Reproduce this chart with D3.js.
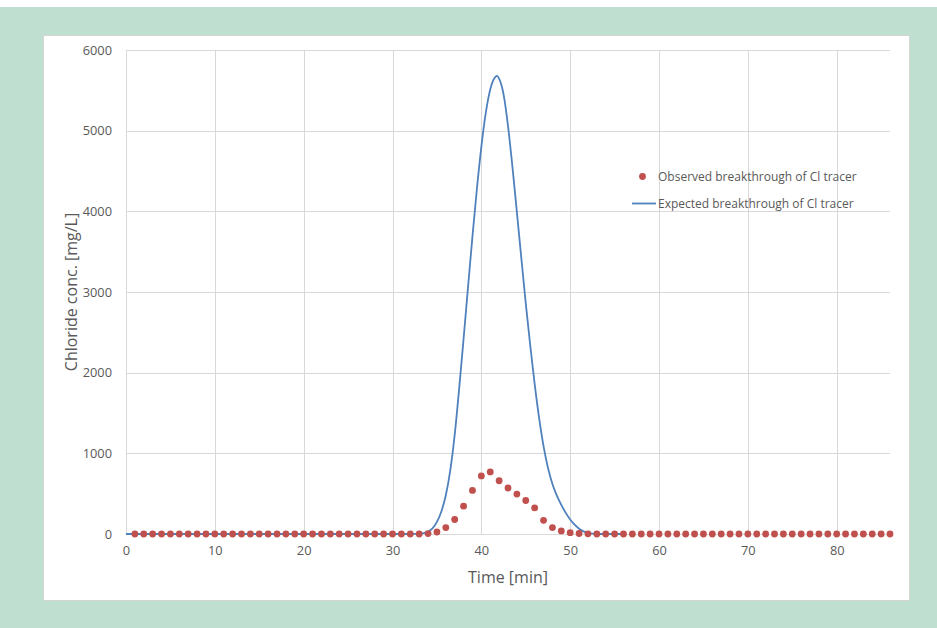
<!DOCTYPE html>
<html><head><meta charset="utf-8">
<script src="https://cdn.jsdelivr.net/npm/d3@7"></script>
<style>
html,body{margin:0;padding:0;background:#fff;}
svg{display:block;}
</style></head>
<body>
<svg id="chart" width="937" height="628"></svg>
<script>
// ---- data ----
const obsTime = [1,2,3,4,5,6,7,8,9,10,11,12,13,14,15,16,17,18,19,20,21,22,23,24,25,26,27,28,29,30,
  31,32,33,34,35,36,37,38,39,40,41,42,43,44,45,46,47,48,49,50,51,52,53,54,55,56,57,58,59,60,
  61,62,63,64,65,66,67,68,69,70,71,72,73,74,75,76,77,78,79,80,81,82,83,84,85,86];
const obsConc = [0,0,0,0,0,0,0,0,0,0,0,0,0,0,0,0,0,0,0,0,0,0,0,0,0,0,0,0,0,0,
  0,0,0,5,25,80,180,345,540,720,770,660,570,495,415,325,170,80,38,16,6,2,0,0,0,0,0,0,0,0,
  0,0,0,0,0,0,0,0,0,0,0,0,0,0,0,0,0,0,0,0,0,0,0,0,0,0];
const expTime = [0,32,32.5,33,33.5,34,34.5,35,35.5,36,36.5,37,37.5,38,38.5,39,39.5,40,40.5,41,41.5,41.75,42,
  42.5,43,43.5,44,44.5,45,45.5,46,46.5,47,47.5,48,48.5,49,49.5,50,50.5,51,51.5,52,52.5,53,53.5,56];
const expConc = [0,0,1,3,10,30,70,150,280,480,790,1230,1800,2420,3060,3690,4280,4800,5220,5510,5655,5680,5645,
  5450,5060,4550,3990,3420,2860,2340,1860,1440,1090,820,620,475,360,262,180,115,66,33,13,4,0,0,0];
const xTicks = [0,10,20,30,40,50,60,70,80];
const yTicks = [0,1000,2000,3000,4000,5000,6000];
const seriesNames = ["Observed breakthrough of Cl tracer","Expected breakthrough of Cl tracer"];
const xTitle = "Time [min]";
const yTitle = "Chloride conc. [mg/L]";

// ---- layout ----
const W = 937, H = 628;
const plot = {left:126, right:890, top:50, bottom:534};
const svg = d3.select("#chart");
const font = "'Open Sans', 'Liberation Sans', sans-serif";
const grey = "#595959", gridC = "#d9d9d9";
const red = "#c0504d", blue = "#4f81bd";

svg.append("rect").attr("x",0).attr("y",0).attr("width",W).attr("height",H).attr("fill","#bfe0d0");
svg.append("rect").attr("x",0).attr("y",0).attr("width",W).attr("height",7).attr("fill","#ffffff");
svg.append("rect").attr("x",43.5).attr("y",35.5).attr("width",866).attr("height",565)
  .attr("fill","#ffffff").attr("stroke","#d6d6d6").attr("stroke-width",1);

const x = d3.scaleLinear().domain([0,86]).range([plot.left, plot.right]);
const y = d3.scaleLinear().domain([0,6000]).range([plot.bottom, plot.top]);

// gridlines
const g = svg.append("g");
g.selectAll("line.h").data(yTicks).join("line")
  .attr("x1",plot.left).attr("x2",plot.right)
  .attr("y1",d=>Math.round(y(d))+0.5).attr("y2",d=>Math.round(y(d))+0.5)
  .attr("stroke",gridC).attr("stroke-width",1);
g.selectAll("line.v").data(xTicks).join("line")
  .attr("y1",plot.top).attr("y2",plot.bottom)
  .attr("x1",d=>Math.round(x(d))+0.5).attr("x2",d=>Math.round(x(d))+0.5)
  .attr("stroke",gridC).attr("stroke-width",1);

// axes (labels only)
const xAxis = svg.append("g").attr("transform",`translate(0,${plot.bottom})`)
  .call(d3.axisBottom(x).tickValues(xTicks).tickSize(0).tickPadding(12).tickFormat(d3.format("d")));
const yAxis = svg.append("g").attr("transform",`translate(${plot.left},0)`)
  .call(d3.axisLeft(y).tickValues(yTicks).tickSize(0).tickPadding(14).tickFormat(d3.format("d")));
[xAxis,yAxis].forEach(a=>{
  a.select(".domain").remove();
  a.selectAll("text").attr("fill",grey).style("font-family",font).style("font-size","12.8px");
});

// expected curve
const line = d3.line().x((d,i)=>x(expTime[i])).y(d=>y(d)).curve(d3.curveMonotoneX);
svg.append("path").datum(expConc).attr("d",line)
  .attr("fill","none").attr("stroke",blue).attr("stroke-width",1.8);

// observed points
svg.append("g").selectAll("circle").data(obsConc).join("circle")
  .attr("cx",(d,i)=>x(obsTime[i])).attr("cy",d=>y(d)).attr("r",3.4).attr("fill",red);

// axis titles
svg.append("text").attr("x",(plot.left+plot.right)/2).attr("y",583)
  .attr("text-anchor","middle").attr("fill",grey)
  .style("font-family",font).style("font-size","16px").text(xTitle);
svg.append("text").attr("transform",`translate(77,${(plot.top+plot.bottom)/2}) rotate(-90)`)
  .attr("text-anchor","middle").attr("fill",grey)
  .style("font-family",font).style("font-size","16px").text(yTitle);

// legend
const leg = svg.append("g");
leg.append("circle").attr("cx",642.5).attr("cy",176.5).attr("r",3.4).attr("fill",red);
leg.append("line").attr("x1",632).attr("x2",656).attr("y1",203.5).attr("y2",203.5)
  .attr("stroke",blue).attr("stroke-width",1.8);
leg.selectAll("text").data(seriesNames).join("text")
  .attr("x",658).attr("y",(d,i)=>i===0?181:208)
  .attr("fill",grey).style("font-family",font).style("font-size","12px").text(d=>d);
</script>
</body></html>
